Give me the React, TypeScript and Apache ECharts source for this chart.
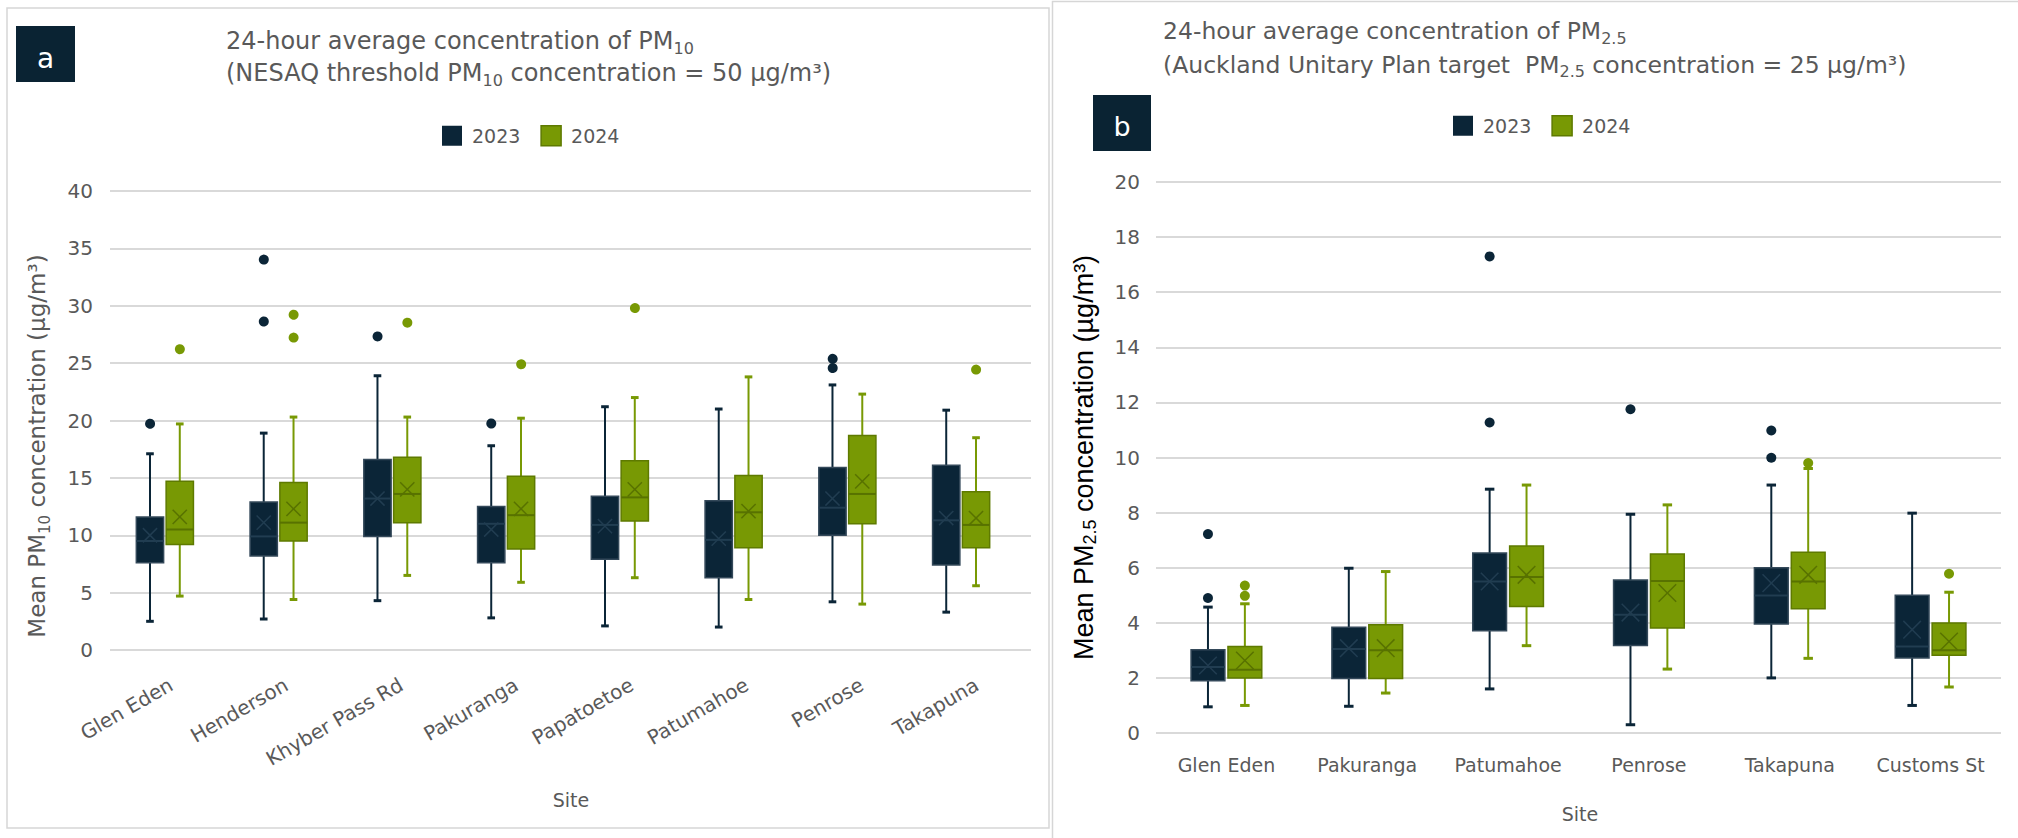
import React, { useEffect, useRef } from 'react';
import * as echarts from 'echarts';

// ---------- data ----------
const pm10Sites = ['Glen Eden', 'Henderson', 'Khyber Pass Rd', 'Pakuranga', 'Papatoetoe', 'Patumahoe', 'Penrose', 'Takapuna'];
// [min, Q1, median, Q3, max]
const pm10Box2023 = [
  [2.5, 7.6, 9.5, 11.6, 17.1],
  [2.7, 8.2, 9.9, 12.9, 18.9],
  [4.3, 9.9, 13.2, 16.6, 23.9],
  [2.8, 7.6, 11.0, 12.5, 17.8],
  [2.1, 7.9, 10.9, 13.4, 21.2],
  [2.0, 6.3, 9.6, 13.0, 21.0],
  [4.2, 10.0, 12.4, 15.9, 23.1],
  [3.3, 7.4, 11.3, 16.1, 20.9],
];
const pm10Mean2023 = [10.0, 11.1, 13.2, 10.5, 10.8, 9.7, 13.2, 11.5];
const pm10Box2024 = [
  [4.7, 9.2, 10.5, 14.7, 19.7],
  [4.4, 9.5, 11.1, 14.6, 20.3],
  [6.5, 11.1, 13.6, 16.8, 20.3],
  [5.9, 8.8, 11.75, 15.15, 20.2],
  [6.3, 11.25, 13.3, 16.5, 22.0],
  [4.4, 8.9, 12.0, 15.2, 23.8],
  [4.0, 11.0, 13.6, 18.7, 22.3],
  [5.6, 8.9, 10.9, 13.8, 18.5],
];
const pm10Mean2024 = [11.6, 12.3, 14.0, 12.3, 14.0, 12.1, 14.7, 11.5];
// [site index, value]
const pm10Outliers2023 = [[0, 19.8], [1, 34.1], [1, 28.7], [2, 27.4], [3, 19.8], [6, 25.5], [6, 24.7]];
const pm10Outliers2024 = [[0, 26.3], [1, 29.3], [1, 27.3], [2, 28.6], [3, 25.0], [4, 29.9], [7, 24.5]];

const pm25Sites = ['Glen Eden', 'Pakuranga', 'Patumahoe', 'Penrose', 'Takapuna', 'Customs St'];
const pm25Box2023 = [
  [0.95, 1.9, 2.4, 3.02, 4.57],
  [0.97, 1.98, 3.05, 3.84, 5.98],
  [1.6, 3.71, 5.5, 6.53, 8.85],
  [0.3, 3.18, 4.29, 5.55, 7.94],
  [2.0, 3.96, 4.99, 6.0, 9.0],
  [1.0, 2.72, 3.14, 5.0, 7.98],
];
const pm25Mean2023 = [2.45, 3.08, 5.5, 4.37, 5.44, 3.75];
const pm25Box2024 = [
  [1.0, 2.0, 2.3, 3.14, 4.69],
  [1.45, 1.98, 3.0, 3.93, 5.86],
  [3.17, 4.59, 5.66, 6.79, 9.0],
  [2.32, 3.81, 5.52, 6.5, 8.28],
  [2.71, 4.51, 5.5, 6.56, 9.6],
  [1.67, 2.82, 3.0, 3.99, 5.11],
];
const pm25Mean2024 = [2.63, 3.08, 5.74, 5.08, 5.74, 3.32];
const pm25Outliers2023 = [[0, 7.22], [0, 4.9], [2, 17.3], [2, 11.27], [3, 11.75], [4, 10.98], [4, 9.99]];
const pm25Outliers2024 = [[0, 5.35], [0, 4.98], [4, 9.8], [5, 5.78]];

const pm10Axis = { min: 0, max: 40, interval: 5 };
const pm25Axis = { min: 0, max: 20, interval: 2 };
const years = ['2023', '2024'];

// ---------- styles ----------
const FONT = 'DejaVu Sans';
const GRAY = '#595959';
const GRID_LINE = '#d9d9d9';
const C2023 = '#0b2537';
const C2023_EDGE = '#34495a';
const C2023_INNER = '#213d51';
const C2024 = '#789904';
const C2024_EDGE = '#5e7a00';
const C2024_INNER = '#587200';

const BOX_FRAC = 0.24;
const GAP_FRAC = 0.022;

function sideOffset(band: number, side: number) {
  const boxW = band * BOX_FRAC;
  const gap = band * GAP_FRAC;
  return side * (boxW / 2 + gap / 2);
}

function makeBoxRenderer(side: number, fill: string, edge: string, inner: string, whisker: string) {
  return (params: any, api: any) => {
    const cat = api.value(0);
    const band = api.size([1, 0])[0];
    const boxW = band * BOX_FRAC;
    const cx = api.coord([cat, 0])[0] + sideOffset(band, side);
    const yv = (k: number) => api.coord([cat, api.value(k)])[1];
    const yMin = yv(1), yQ1 = yv(2), yMed = yv(3), yQ3 = yv(4), yMax = yv(5), yMean = yv(6);
    const capW = boxW * 0.28;
    const xs = boxW * 0.26;
    return {
      type: 'group',
      children: [
        { type: 'line', shape: { x1: cx, y1: yMax, x2: cx, y2: yQ3 }, style: { stroke: whisker, lineWidth: 2 } },
        { type: 'line', shape: { x1: cx, y1: yQ1, x2: cx, y2: yMin }, style: { stroke: whisker, lineWidth: 2 } },
        { type: 'line', shape: { x1: cx - capW / 2, y1: yMax, x2: cx + capW / 2, y2: yMax }, style: { stroke: whisker, lineWidth: 3 } },
        { type: 'line', shape: { x1: cx - capW / 2, y1: yMin, x2: cx + capW / 2, y2: yMin }, style: { stroke: whisker, lineWidth: 3 } },
        { type: 'rect', shape: { x: cx - boxW / 2, y: yQ3, width: boxW, height: yQ1 - yQ3 }, style: { fill, stroke: edge, lineWidth: 1.5 } },
        { type: 'line', shape: { x1: cx - boxW / 2, y1: yMed, x2: cx + boxW / 2, y2: yMed }, style: { stroke: inner, lineWidth: 2 } },
        { type: 'line', shape: { x1: cx - xs, y1: yMean - xs, x2: cx + xs, y2: yMean + xs }, style: { stroke: inner, lineWidth: 1.5 } },
        { type: 'line', shape: { x1: cx - xs, y1: yMean + xs, x2: cx + xs, y2: yMean - xs }, style: { stroke: inner, lineWidth: 1.5 } },
      ],
    };
  };
}

function makeDotRenderer(side: number, color: string) {
  return (params: any, api: any) => {
    const cat = api.value(0);
    const band = api.size([1, 0])[0];
    const p = api.coord([cat, api.value(1)]);
    return { type: 'circle', shape: { cx: p[0] + sideOffset(band, side), cy: p[1], r: 5 }, style: { fill: color } };
  };
}

function boxRows(box: number[][], mean: number[]) {
  return box.map((b, i) => [i, ...b, mean[i]]);
}

function boxSeries(name: string, xi: number, yi: number, box: number[][], mean: number[], side: number) {
  const is23 = side < 0;
  return {
    type: 'custom',
    name,
    coordinateSystem: 'cartesian2d',
    xAxisIndex: xi,
    yAxisIndex: yi,
    itemStyle: { color: is23 ? C2023 : C2024 },
    encode: { x: 0, y: [1, 2, 3, 4, 5, 6] },
    data: boxRows(box, mean),
    renderItem: makeBoxRenderer(side, is23 ? C2023 : C2024, is23 ? C2023_EDGE : C2024_EDGE, is23 ? C2023_INNER : C2024_INNER, is23 ? C2023 : C2024),
    z: 3,
  };
}

function dotSeries(name: string, xi: number, yi: number, pts: number[][], side: number) {
  const is23 = side < 0;
  return {
    type: 'custom',
    name,
    coordinateSystem: 'cartesian2d',
    xAxisIndex: xi,
    yAxisIndex: yi,
    itemStyle: { color: is23 ? C2023 : C2024 },
    encode: { x: 0, y: 1 },
    data: pts,
    renderItem: makeDotRenderer(side, is23 ? C2023 : C2024),
    z: 4,
  };
}

function richTitle(size: number, subSize: number, color: string, family: string) {
  return {
    m: { fontFamily: family, fontSize: size, fill: color, lineHeight: 30 },
    s: { fontFamily: family, fontSize: subSize, fill: color, lineHeight: 14, verticalAlign: 'bottom' },
  };
}

function textEl(x: number, y: number, text: string, rich: any, align = 'left', rotation = 0) {
  return {
    type: 'text',
    x,
    y,
    rotation,
    style: { text, rich, align, verticalAlign: 'middle', textAlign: align, textVerticalAlign: 'middle' },
    z: 10,
  };
}

function legendFor(left: number, top: number) {
  return {
    left,
    top,
    padding: 0,
    itemWidth: 20,
    itemHeight: 20,
    itemGap: 20,
    icon: 'rect',
    selectedMode: false,
    textStyle: { fontFamily: FONT, fontSize: 19, color: GRAY, padding: [0, 0, 0, 5] },
    data: [
      { name: years[0], itemStyle: { color: C2023 } },
      { name: years[1], itemStyle: { color: C2024, borderColor: C2024_EDGE, borderWidth: 1.5 } },
    ],
  };
}

export default function App() {
  const ref = useRef<HTMLDivElement>(null);
  useEffect(() => {
    if (!ref.current) return;
    const chart = echarts.init(ref.current, undefined, { renderer: 'svg' });
    const option: any = {
      animation: false,
      backgroundColor: '#ffffff',
      legend: [legendFor(442, 125), legendFor(1453, 115)],
      grid: [
        { left: 110, top: 191, width: 921, height: 459 },
        { left: 108, top: 191, width: 910, height: 459 },
        { left: 1156, top: 182, width: 845, height: 551 },
      ],
      xAxis: [
        {
          gridIndex: 0, type: 'category', data: pm10Sites,
          axisLine: { show: false }, axisTick: { show: false }, splitLine: { show: false },
          axisLabel: { interval: 0, rotate: 30, margin: 35, padding: [0, -4, 0, 0], fontFamily: FONT, fontSize: 20, color: GRAY },
        },
        { gridIndex: 1, type: 'category', data: pm10Sites, show: false },
        {
          gridIndex: 2, type: 'category', data: pm25Sites,
          axisLine: { show: false }, axisTick: { show: false }, splitLine: { show: false },
          axisLabel: { interval: 0, margin: 22, fontFamily: FONT, fontSize: 19, color: GRAY },
        },
      ],
      yAxis: [
        {
          gridIndex: 0, type: 'value', ...pm10Axis,
          axisLine: { show: false }, axisTick: { show: false },
          axisLabel: { margin: 17, fontFamily: FONT, fontSize: 20, color: GRAY },
          splitLine: { lineStyle: { color: GRID_LINE, width: 2 } },
        },
        { gridIndex: 1, type: 'value', ...pm10Axis, show: false },
        {
          gridIndex: 2, type: 'value', ...pm25Axis,
          axisLine: { show: false }, axisTick: { show: false },
          axisLabel: { margin: 16, fontFamily: FONT, fontSize: 20, color: GRAY },
          splitLine: { lineStyle: { color: GRID_LINE, width: 2 } },
        },
      ],
      series: [
        boxSeries(years[0], 1, 1, pm10Box2023, pm10Mean2023, -1),
        boxSeries(years[1], 1, 1, pm10Box2024, pm10Mean2024, 1),
        dotSeries('2023 outliers PM10', 1, 1, pm10Outliers2023, -1),
        dotSeries('2024 outliers PM10', 1, 1, pm10Outliers2024, 1),
        boxSeries(years[0], 2, 2, pm25Box2023, pm25Mean2023, -1),
        boxSeries(years[1], 2, 2, pm25Box2024, pm25Mean2024, 1),
        dotSeries('2023 outliers PM2.5', 2, 2, pm25Outliers2023, -1),
        dotSeries('2024 outliers PM2.5', 2, 2, pm25Outliers2024, 1),
      ],
      graphic: [
        { type: 'rect', shape: { x: 7, y: 8, width: 1042, height: 820 }, style: { fill: 'none', stroke: '#d6d6d6', lineWidth: 1.5 }, z: 0 },
        { type: 'rect', shape: { x: 1052.5, y: 1.5, width: 980, height: 860 }, style: { fill: 'none', stroke: '#d6d6d6', lineWidth: 1.5 }, z: 0 },
        { type: 'rect', shape: { x: 16, y: 26, width: 59, height: 56 }, style: { fill: '#0a2333' }, z: 5 },
        { type: 'text', x: 45.5, y: 58, style: { text: 'a', fontFamily: FONT, fontSize: 28, fill: '#ffffff', align: 'center', verticalAlign: 'middle', textAlign: 'center', textVerticalAlign: 'middle' }, z: 6 },
        { type: 'rect', shape: { x: 1093, y: 95, width: 58, height: 56 }, style: { fill: '#0a2333' }, z: 5 },
        { type: 'text', x: 1122, y: 126, style: { text: 'b', fontFamily: FONT, fontSize: 27, fill: '#ffffff', align: 'center', verticalAlign: 'middle', textAlign: 'center', textVerticalAlign: 'middle' }, z: 6 },
        textEl(226, 41, '{m|24-hour average concentration of PM}{s|10}', richTitle(24, 16, GRAY, FONT)),
        textEl(226, 73.4, '{m|(NESAQ threshold PM}{s|10}{m| concentration = 50 µg/m³)}', richTitle(24, 16, GRAY, FONT)),
        textEl(1163, 31.2, '{m|24-hour average concentration of PM}{s|2.5}', richTitle(23.5, 16, GRAY, FONT)),
        textEl(1163, 64.6, '{m|(Auckland Unitary Plan target  PM}{s|2.5}{m| concentration = 25 µg/m³)}', richTitle(23.5, 16, GRAY, FONT)),
        textEl(37, 446, '{m|Mean PM}{s|10}{m| concentration (µg/m³)}', richTitle(23, 15, GRAY, FONT), 'center', Math.PI / 2),
        textEl(1084, 457.5, '{m|Mean PM}{s|2.5}{m| concentration (µg/m³)}', richTitle(27, 18, '#000000', 'Liberation Sans'), 'center', Math.PI / 2),
        { type: 'text', x: 571, y: 800, style: { text: 'Site', fontFamily: FONT, fontSize: 19, fill: GRAY, align: 'center', verticalAlign: 'middle', textAlign: 'center', textVerticalAlign: 'middle' }, z: 6 },
        { type: 'text', x: 1580, y: 814, style: { text: 'Site', fontFamily: FONT, fontSize: 19, fill: GRAY, align: 'center', verticalAlign: 'middle', textAlign: 'center', textVerticalAlign: 'middle' }, z: 6 },
      ],
    };
    chart.setOption(option);
    return () => chart.dispose();
  }, []);
  return <div ref={ref} style={{ position: 'absolute', left: 0, top: 0, width: 2018, height: 838 }} />;
}
